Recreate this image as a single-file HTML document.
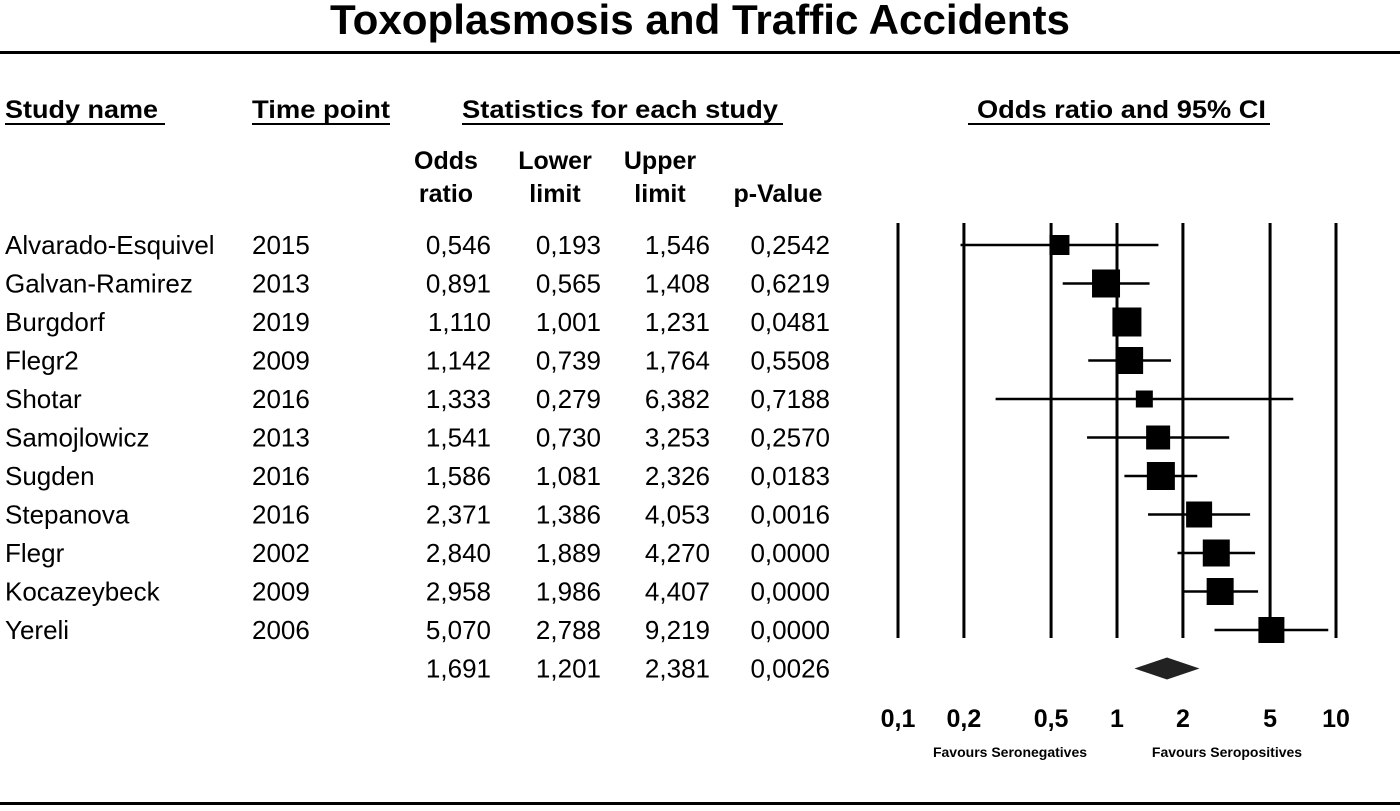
<!DOCTYPE html>
<html><head><meta charset="utf-8"><style>
html,body{margin:0;padding:0;background:#fff;}
svg{display:block;font-family:"Liberation Sans",Arial,sans-serif;}
</style></head><body>
<svg id="c" width="1400" height="811" viewBox="0 0 1400 811"></svg>
<script>
const studies=["Alvarado-Esquivel","Galvan-Ramirez","Burgdorf","Flegr2","Shotar","Samojlowicz","Sugden","Stepanova","Flegr","Kocazeybeck","Yereli"];
const years=["2015","2013","2019","2009","2016","2013","2016","2016","2002","2009","2006"];
const oddsRatio=[0.546,0.891,1.110,1.142,1.333,1.541,1.586,2.371,2.840,2.958,5.070];
const lowerLimit=[0.193,0.565,1.001,0.739,0.279,0.730,1.081,1.386,1.889,1.986,2.788];
const upperLimit=[1.546,1.408,1.231,1.764,6.382,3.253,2.326,4.053,4.270,4.407,9.219];
const pValues=["0,2542","0,6219","0,0481","0,5508","0,7188","0,2570","0,0183","0,0016","0,0000","0,0000","0,0000"];
const weights=[20,28,29,27,17,24,28,26,27,27,26];
const summaryOR=1.691, summaryLower=1.201, summaryUpper=2.381, summaryP="0,0026";
const ticks=[0.1,0.2,0.5,1,2,5,10];
const tickLabels=["0,1","0,2","0,5","1","2","5","10"];

const NS="http://www.w3.org/2000/svg";
const svg=document.getElementById('c');
function el(t,a,txt){const e=document.createElementNS(NS,t);for(const k in a)e.setAttribute(k,a[k]);if(txt!=null)e.textContent=txt;svg.appendChild(e);return e;}
const x=v=>898+219*Math.log10(v/0.1);
const rowY=i=>245+38.5*i;
const fmt=v=>v.toFixed(3).replace('.',',');

let e;
e=el('text',{x:700,y:34,'text-anchor':'middle','font-size':42,'font-weight':'bold',textLength:740,lengthAdjust:'spacingAndGlyphs'},'Toxoplasmosis and Traffic Accidents');

e=el('rect',{x:0,y:51,width:1400,height:3,fill:'#000'});

e=el('rect',{x:0,y:802,width:1400,height:3,fill:'#000'});


const heads=[["Study name",5,165,5,153,'study-name-header'],["Time point",252,390,252,138,'time-point-header'],["Statistics for each study",462,783,462,316,'statistics-header'],["Odds ratio and 95% CI",968,1270,977,289,'odds-ratio-ci-header']];
heads.forEach(h=>{
  e=el('text',{x:h[3],y:118,'font-size':25,'font-weight':'bold',textLength:h[4],lengthAdjust:'spacingAndGlyphs'},h[0]);
  
  e=el('rect',{x:h[1],y:123,width:h[2]-h[1],height:2,fill:'#000'});
  
});
const sub=[["Odds","ratio",446],["Lower","limit",555],["Upper","limit",660],["","p-Value",778]];
sub.forEach((s,k)=>{
  if(s[0]){e=el('text',{x:s[2],y:169,'text-anchor':'middle','font-size':25,'font-weight':'bold'},s[0]);
  }
  e=el('text',{x:s[2],y:202,'text-anchor':'middle','font-size':25,'font-weight':'bold'},s[1]);
  
});

ticks.forEach((t,k)=>{
  e=el('rect',{x:x(t)-1.5,y:223,width:3,height:415,fill:'#000'});
  
  e=el('text',{x:x(t),y:727,'text-anchor':'middle','font-size':25,'font-weight':'bold'},tickLabels[k]);
  
});
e=el('text',{x:1010,y:757,'text-anchor':'middle','font-size':14,'font-weight':'bold'},'Favours Seronegatives');

e=el('text',{x:1227,y:757,'text-anchor':'middle','font-size':14,'font-weight':'bold'},'Favours Seropositives');


function rowText(i,y,name,yr,or,lo,up,p){
  const fs=26;
  if(name){e=el('text',{x:5,y:y+9,'font-size':fs},name);
  }
  if(yr){e=el('text',{x:252,y:y+9,'font-size':fs},yr);
  }
  e=el('text',{x:491,y:y+9,'font-size':fs,'text-anchor':'end'},or);
  
  e=el('text',{x:601,y:y+9,'font-size':fs,'text-anchor':'end'},lo);
  
  e=el('text',{x:710,y:y+9,'font-size':fs,'text-anchor':'end'},up);
  
  e=el('text',{x:830,y:y+9,'font-size':fs,'text-anchor':'end'},p);
  
}
studies.forEach((s,i)=>{
  const y=rowY(i);
  rowText(i,y,s,years[i],fmt(oddsRatio[i]),fmt(lowerLimit[i]),fmt(upperLimit[i]),pValues[i]);
  e=el('line',{x1:x(lowerLimit[i]),x2:x(upperLimit[i]),y1:y,y2:y,stroke:'#000','stroke-width':2.5});
  
  const w=weights[i];
  e=el('rect',{x:x(oddsRatio[i])-w/2,y:y-w/2,width:w,height:w,fill:'#000'});
  
});
const sy=rowY(11);
rowText(11,sy,null,null,fmt(summaryOR),fmt(summaryLower),fmt(summaryUpper),summaryP);
e=el('polygon',{points:`${x(summaryLower)},${sy} ${x(summaryOR)},${sy-11} ${x(summaryUpper)},${sy} ${x(summaryOR)},${sy+11}`,fill:'#222'});

</script>
</body></html>
